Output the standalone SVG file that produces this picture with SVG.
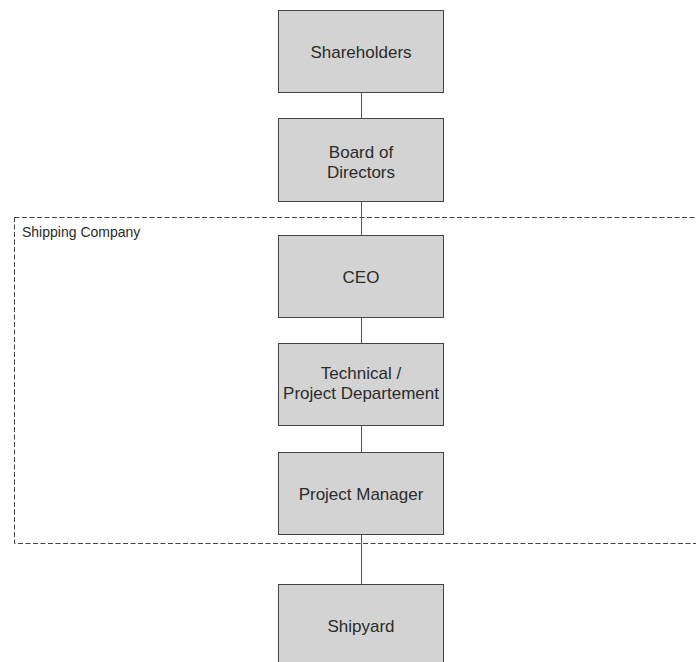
<svg xmlns="http://www.w3.org/2000/svg" width="696" height="662" viewBox="0 0 696 662">
<style>
.box{fill:#d3d3d3;stroke:#444;stroke-width:1}
.t{font-family:"Liberation Sans",Arial,sans-serif;font-size:17px;fill:#2b2b2b;text-anchor:middle}
.lbl{font-family:"Liberation Sans",Arial,sans-serif;font-size:14px;fill:#2b2b2b}
.conn{stroke:#555;stroke-width:1;fill:none}
.frame{stroke:#444;stroke-width:1;fill:none;stroke-dasharray:5,2.5}
</style>
<rect width="696" height="662" fill="#fff"/>
<g id="shipping-company">
<rect class="frame" x="14.5" y="217.5" width="700" height="326"/>
<text class="lbl" x="22" y="237">Shipping Company</text>
</g>
<g id="connectors">
<line class="conn" x1="361.5" y1="93" x2="361.5" y2="118"/>
<line class="conn" x1="361.5" y1="202" x2="361.5" y2="235"/>
<line class="conn" x1="361.5" y1="318" x2="361.5" y2="343"/>
<line class="conn" x1="361.5" y1="426" x2="361.5" y2="452"/>
<line class="conn" x1="361.5" y1="535" x2="361.5" y2="584"/>
</g>
<g id="shareholders">
<rect class="box" x="278.5" y="10.5" width="165" height="82"/>
<text class="t" x="361" y="58">Shareholders</text>
</g>
<g id="board">
<rect class="box" x="278.5" y="118.5" width="165" height="83"/>
<text class="t" x="361" y="158">Board of</text>
<text class="t" x="361" y="177.5">Directors</text>
</g>
<g id="ceo">
<rect class="box" x="278.5" y="235.5" width="165" height="82"/>
<text class="t" x="361" y="283">CEO</text>
</g>
<g id="technical">
<rect class="box" x="278.5" y="343.5" width="165" height="82"/>
<text class="t" x="361" y="379">Technical /</text>
<text class="t" x="361" y="398.5">Project Departement</text>
</g>
<g id="project-manager">
<rect class="box" x="278.5" y="452.5" width="165" height="82"/>
<text class="t" x="361" y="500">Project Manager</text>
</g>
<g id="shipyard">
<rect class="box" x="278.5" y="584.5" width="165" height="83"/>
<text class="t" x="361" y="632">Shipyard</text>
</g>
</svg>
